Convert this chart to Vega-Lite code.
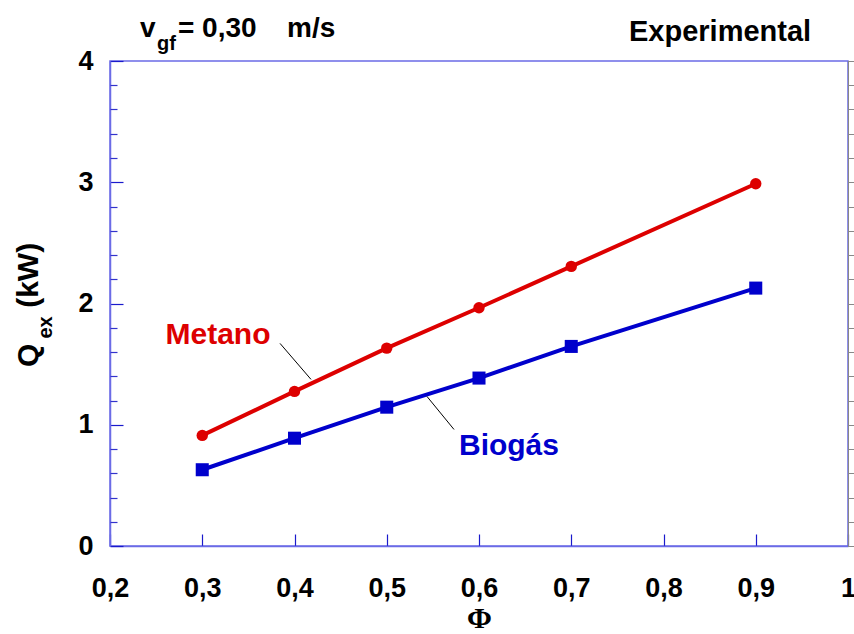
{
  "$schema": "https://vega.github.io/schema/vega-lite/v6.json",
  "width": 738,
  "height": 485,
  "autosize": "none",
  "padding": {"left": 110, "top": 61, "right": 6, "bottom": 88},
  "background": "white",
  "config": {
    "view": {"stroke": "#6b6be6", "strokeWidth": 1.5},
    "font": "Liberation Sans"
  },
  "datasets": {
    "series": [
      {"gas": "Metano", "phi": 0.3, "q": 0.912},
      {"gas": "Metano", "phi": 0.4, "q": 1.275},
      {"gas": "Metano", "phi": 0.5, "q": 1.632},
      {"gas": "Metano", "phi": 0.6, "q": 1.965},
      {"gas": "Metano", "phi": 0.7, "q": 2.306},
      {"gas": "Metano", "phi": 0.9, "q": 2.988},
      {"gas": "Biogás", "phi": 0.3, "q": 0.629},
      {"gas": "Biogás", "phi": 0.4, "q": 0.889},
      {"gas": "Biogás", "phi": 0.5, "q": 1.145},
      {"gas": "Biogás", "phi": 0.6, "q": 1.385},
      {"gas": "Biogás", "phi": 0.7, "q": 1.646},
      {"gas": "Biogás", "phi": 0.9, "q": 2.127}
    ],
    "leaders": [
      {"gas": "Metano", "x": 0.3843, "y": 1.671, "x2": 0.4179, "y2": 1.374},
      {"gas": "Biogás", "x": 0.5436, "y": 1.2335, "x2": 0.5729, "y2": 0.9612}
    ],
    "seriesLabels": [
      {"gas": "Metano", "x": 0.3171, "y": 1.6625},
      {"gas": "Biogás", "x": 0.6325, "y": 0.7467}
    ],
    "titleMain": [
      {"x": 0.2325, "y": 4.195, "text": "v"},
      {"x": 0.2737, "y": 4.195, "text": "= 0,30"},
      {"x": 0.3919, "y": 4.195, "text": "m/s"}
    ],
    "titleSub": [
      {"x": 0.2509, "y": 4.088, "text": "gf"}
    ],
    "corner": [
      {"x": 0.8613, "y": 4.163, "text": "Experimental"}
    ],
    "yTitleMain": [
      {"x": 0.122, "y": 1.572, "text": "Q"},
      {"x": 0.122, "y": 2.232, "text": "(kW)"}
    ],
    "yTitleSub": [
      {"x": 0.1371, "y": 1.803, "text": "ex"}
    ]
  },
  "layer": [
    {
      "data": {"name": "series"},
      "mark": {"type": "line", "strokeWidth": 4},
      "encoding": {
        "x": {
          "field": "phi", "type": "quantitative",
          "scale": {"domain": [0.2, 1.0], "nice": false, "zero": false},
          "axis": {
            "values": [0.2, 0.3, 0.4, 0.5, 0.6, 0.7, 0.8, 0.9, 1.0],
            "labelExpr": "datum.value == 1 ? '1' : replace(format(datum.value, '.1f'), '.', ',')",
            "grid": false,
            "domainColor": "#6b6be6", "domainWidth": 1.5,
            "tickColor": "#1a1acc", "tickSize": -12, "tickWidth": 1.2,
            "labelFont": "Liberation Sans", "labelFontWeight": "bold", "labelFontSize": 27,
            "labelColor": "black", "labelPadding": 41, "labelFlush": false,
            "title": "Φ", "titleFont": "Liberation Serif", "titleFontWeight": "bold",
            "titleFontSize": 30, "titleColor": "black", "titlePadding": 2
          }
        },
        "y": {
          "field": "q", "type": "quantitative",
          "scale": {"domain": [0, 4], "nice": false},
          "axis": {
            "values": [0, 1, 2, 3, 4],
            "format": "d",
            "grid": false,
            "domainColor": "#6b6be6", "domainWidth": 1.5,
            "tickColor": "#1a1acc", "tickSize": -13, "tickWidth": 1.2,
            "labelFont": "Liberation Sans", "labelFontWeight": "bold", "labelFontSize": 27,
            "labelColor": "black", "labelPadding": 30, "labelFlush": false,
            "title": null
          }
        },
        "color": {
          "field": "gas", "type": "nominal",
          "scale": {"domain": ["Metano", "Biogás"], "range": ["#dd0000", "#0000cc"]},
          "legend": null
        }
      }
    },
    {
      "data": {"name": "series"},
      "mark": {"type": "point", "filled": true, "opacity": 1},
      "encoding": {
        "x": {"field": "phi", "type": "quantitative"},
        "y": {"field": "q", "type": "quantitative",
          "axis": {
            "values": [0.2, 0.4, 0.6, 0.8, 1.2, 1.4, 1.6, 1.8, 2.2, 2.4, 2.6, 2.8, 3.2, 3.4, 3.6, 3.8],
            "orient": "left", "labels": false, "domain": false, "grid": false,
            "tickColor": "#3333cc", "tickSize": -7, "tickWidth": 1.2, "title": null
          }
        },
        "color": {"field": "gas", "type": "nominal", "legend": null},
        "shape": {
          "field": "gas", "type": "nominal",
          "scale": {"domain": ["Metano", "Biogás"], "range": ["circle", "square"]},
          "legend": null
        },
        "size": {
          "field": "gas", "type": "nominal",
          "scale": {"domain": ["Metano", "Biogás"], "range": [130, 170]},
          "legend": null
        }
      }
    },
    {
      "data": {"name": "leaders"},
      "mark": {"type": "rule", "color": "black", "strokeWidth": 1},
      "encoding": {
        "x": {"field": "x", "type": "quantitative"},
        "y": {"field": "y", "type": "quantitative"},
        "x2": {"field": "x2"},
        "y2": {"field": "y2"}
      }
    },
    {
      "data": {"name": "seriesLabels"},
      "mark": {"type": "text", "font": "Liberation Sans", "fontWeight": "bold", "fontSize": 30, "align": "center", "baseline": "alphabetic"},
      "encoding": {
        "x": {"field": "x", "type": "quantitative"},
        "y": {"field": "y", "type": "quantitative"},
        "text": {"field": "gas"},
        "color": {"field": "gas", "type": "nominal", "legend": null}
      }
    },
    {
      "data": {"name": "titleMain"},
      "mark": {"type": "text", "font": "Liberation Sans", "fontWeight": "bold", "fontSize": 28, "align": "left", "baseline": "alphabetic", "color": "black"},
      "encoding": {
        "x": {"field": "x", "type": "quantitative"},
        "y": {"field": "y", "type": "quantitative"},
        "text": {"field": "text"}
      }
    },
    {
      "data": {"name": "titleSub"},
      "mark": {"type": "text", "font": "Liberation Sans", "fontWeight": "bold", "fontSize": 20, "align": "left", "baseline": "alphabetic", "color": "black"},
      "encoding": {
        "x": {"field": "x", "type": "quantitative"},
        "y": {"field": "y", "type": "quantitative"},
        "text": {"field": "text"}
      }
    },
    {
      "data": {"name": "corner"},
      "mark": {"type": "text", "font": "Liberation Sans", "fontWeight": "bold", "fontSize": 29, "align": "center", "baseline": "alphabetic", "color": "black"},
      "encoding": {
        "x": {"field": "x", "type": "quantitative"},
        "y": {"field": "y", "type": "quantitative"},
        "text": {"field": "text"}
      }
    },
    {
      "data": {"name": "yTitleMain"},
      "mark": {"type": "text", "font": "Liberation Sans", "fontWeight": "bold", "fontSize": 30, "align": "center", "baseline": "alphabetic", "angle": 270, "color": "black"},
      "encoding": {
        "x": {"field": "x", "type": "quantitative"},
        "y": {"field": "y", "type": "quantitative"},
        "text": {"field": "text"}
      }
    },
    {
      "data": {"name": "yTitleSub"},
      "mark": {"type": "text", "font": "Liberation Sans", "fontWeight": "bold", "fontSize": 20, "align": "center", "baseline": "alphabetic", "angle": 270, "color": "black"},
      "encoding": {
        "x": {"field": "x", "type": "quantitative"},
        "y": {"field": "y", "type": "quantitative"},
        "text": {"field": "text"}
      }
    }
  ],
  "resolve": {"axis": {"y": "independent"}}
}
